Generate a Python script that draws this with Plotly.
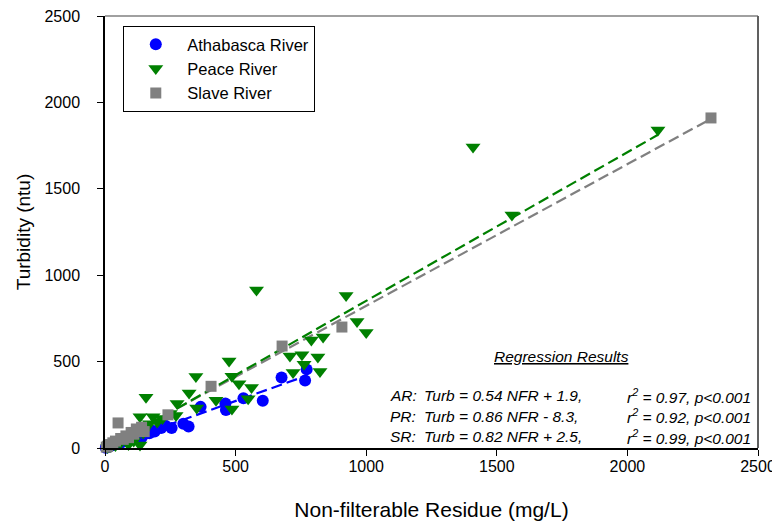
import plotly.graph_objects as go

# Athabasca River (NFR mg/L, turbidity ntu)
ar_nfr = [772, 766, 676, 604, 530, 463, 461, 366, 320, 300, 255, 215, 230, 190, 180,
          170, 150, 140, 130, 120, 110, 100, 90, 80, 70, 60, 50, 40, 30, 20, 15, 10, 5, 3]
ar_turb = [455, 390, 408, 273, 288, 220, 258, 238, 125, 140, 116, 116, 130, 95, 100,
           85, 80, 60, 70, 75, 65, 55, 45, 40, 38, 30, 28, 22, 18, 12, 9, 6, 4, 2]

# Peace River
pr_nfr = [2117, 1409, 1558, 580, 923, 965, 1000, 835, 790, 754, 815, 708, 762, 720, 823,
          475, 486, 513, 561, 548, 486, 425, 348, 322, 276, 351, 157, 134, 184, 272, 146,
          134, 60, 80, 100, 110, 90, 120, 150, 200, 220, 250, 170, 40, 20, 10, 30]
pr_turb = [1840, 1742, 1348, 914, 882, 732, 668, 642, 625, 540, 527, 532, 484, 437, 443,
           503, 415, 372, 350, 285, 226, 276, 414, 318, 258, 231, 293, 181, 181, 188, 87,
           17, 30, 50, 60, 40, 20, 80, 120, 150, 170, 200, 140, 15, 8, 3, 20]

# Slave River
sr_nfr = [2320, 907, 678, 406, 241, 50, 120, 100, 80, 60, 40, 30, 20, 10, 5, 110, 90, 70,
          130, 150, 140]
sr_turb = [1910, 700, 590, 357, 192, 145, 110, 90, 70, 55, 40, 30, 20, 10, 5, 80, 60, 50,
           100, 95, 120]

# regression results (slope, intercept, r2)
ar_fit = (0.54, 1.9, 0.97)
pr_fit = (0.86, -8.3, 0.92)
sr_fit = (0.82, 2.5, 0.99)

x_ticks = [0, 500, 1000, 1500, 2000, 2500]
y_ticks = [0, 500, 1000, 1500, 2000, 2500]

FONT = "Arial, Liberation Sans, sans-serif"
BLUE = "#0000ff"
GREEN = "#008000"
GREY = "#808080"

fig = go.Figure()


def fit_line(xs, fit):
    x0, x1 = min(xs), max(xs)
    return [x0, x1], [fit[0] * x0 + fit[1], fit[0] * x1 + fit[1]]


# regression lines
for xs, fit, col in [(sr_nfr, sr_fit, GREY), (pr_nfr, pr_fit, GREEN), (ar_nfr, ar_fit, BLUE)]:
    lx, ly = fit_line(xs, fit)
    fig.add_trace(go.Scatter(x=lx, y=ly, mode="lines", showlegend=False, hoverinfo="skip",
                             line=dict(color=col, width=2.2, dash="11px,5px")))

fig.add_trace(go.Scatter(x=ar_nfr, y=ar_turb, mode="markers", name="Athabasca River",
                         marker=dict(symbol="circle", size=12, color=BLUE), cliponaxis=False))
fig.add_trace(go.Scatter(x=pr_nfr, y=pr_turb, mode="markers", name="Peace River",
                         marker=dict(symbol="triangle-down", size=13, color=GREEN), cliponaxis=False))
fig.add_trace(go.Scatter(x=sr_nfr, y=sr_turb, mode="markers", name="Slave River",
                         marker=dict(symbol="square", size=11, color=GREY), cliponaxis=False))

# grey frame on top / right
fig.add_shape(type="line", xref="paper", yref="paper", x0=0, x1=1, y0=1, y1=1,
              line=dict(color="#808080", width=1.5), layer="above")
fig.add_shape(type="line", xref="paper", yref="paper", x0=1, x1=1, y0=0, y1=1,
              line=dict(color="#606060", width=2), layer="above")

# regression text
fig.add_annotation(x=1746, y=532, text="<i><u>Regression Results</u></i>", showarrow=False,
                   font=dict(size=15.5, color="black", family=FONT))
rows = [("AR:", ar_fit, 301), ("PR:", pr_fit, 185), ("SR:", sr_fit, 64)]
for lab, fit, yy in rows:
    sign = "+" if fit[1] >= 0 else "-"
    eq = f"Turb = {fit[0]:.2f} NFR {sign} {abs(fit[1]):.1f},"
    st = f"r<sup>2</sup> = {fit[2]:.2f}, p<0.001"
    fig.add_annotation(x=1083, y=yy, text=f"<i>{lab}</i>", showarrow=False, xanchor="left",
                       font=dict(size=15.5, color="black", family=FONT))
    fig.add_annotation(x=1214, y=yy, text=f"<i>{eq}</i>", showarrow=False, xanchor="left",
                       font=dict(size=15.5, color="black", family=FONT))
    fig.add_annotation(x=2480, y=yy, text=f"<i>{st}</i>", showarrow=False, xanchor="right",
                       font=dict(size=15.5, color="black", family=FONT))

# page body has an 8px margin, so the figure is shrunk by that much
fig.update_layout(
    width=772, height=515,
    margin=dict(l=97, r=22, t=8, b=75),
    plot_bgcolor="white", paper_bgcolor="white",
    font=dict(family=FONT, color="black", size=16),
    legend=dict(x=0.028, y=0.977, xanchor="left", yanchor="top",
                bordercolor="black", borderwidth=1, bgcolor="white",
                font=dict(size=16.5), itemwidth=53, entrywidth=208, tracegroupgap=0),
    xaxis=dict(range=[0, 2500], tickvals=x_ticks, showgrid=False, zeroline=False,
               automargin=False, ticklabeloverflow="allow",
               showline=True, linecolor="black", linewidth=1.5, ticks="outside",
               ticklen=6, tickcolor="black", ticklabelstandoff=-3,
               title=dict(text="Non-filterable Residue (mg/L)", font=dict(size=21),
                          standoff=28)),
    yaxis=dict(range=[0, 2500], tickvals=y_ticks, showgrid=False, zeroline=False,
               automargin=False, ticklabeloverflow="allow",
               showline=True, linecolor="black", linewidth=1.5, ticks="outside",
               ticklen=6, tickcolor="black", ticklabelstandoff=14,
               title=dict(text="Turbidity (ntu)", font=dict(size=19), standoff=9)),
)

fig.write_html("out.html")
